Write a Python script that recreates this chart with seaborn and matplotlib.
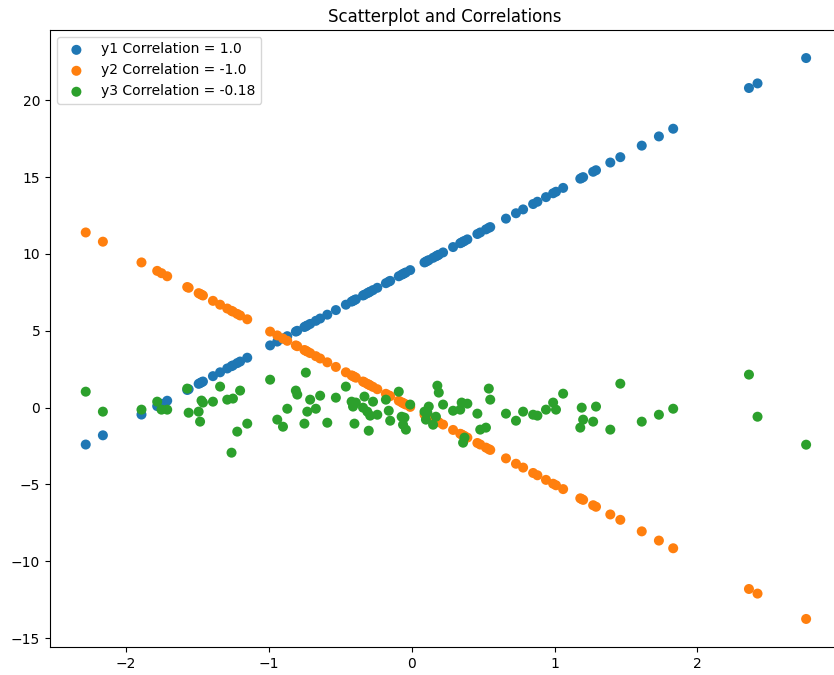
import numpy as np
import pandas as pd
import seaborn as sns
import matplotlib
matplotlib.use("Agg")
import matplotlib.pyplot as plt

# values
x = [-2.28, -2.16, -1.89, -1.78, -1.75, -1.71, -1.57, -1.56, -1.49, -1.48,
     -1.47, -1.46, -1.39, -1.34, -1.29, -1.26, -1.25, -1.22, -1.20, -1.15,
     -0.99, -0.94, -0.90, -0.87, -0.81, -0.80, -0.75, -0.74, -0.73, -0.71,
     -0.67, -0.64, -0.59, -0.53, -0.46, -0.42, -0.41, -0.40, -0.39, -0.34,
     -0.33, -0.31, -0.30, -0.29, -0.27, -0.24, -0.18, -0.16, -0.15, -0.09,
     -0.07, -0.06, -0.05, -0.04, -0.01, 0.09, 0.10, 0.11, 0.12, 0.15,
     0.17, 0.18, 0.19, 0.22, 0.29, 0.34, 0.35, 0.36, 0.37, 0.39,
     0.46, 0.48, 0.52, 0.54, 0.55, 0.66, 0.73, 0.78, 0.85, 0.88,
     0.94, 0.99, 1.01, 1.06, 1.18, 1.19, 1.20, 1.27, 1.29, 1.39,
     1.46, 1.61, 1.73, 1.83, 2.36, 2.42, 2.76]

y1 = [-2.40, -1.80, -0.45, 0.10, 0.25, 0.45, 1.15, 1.20, 1.55, 1.60,
      1.65, 1.70, 2.05, 2.30, 2.55, 2.70, 2.75, 2.90, 3.00, 3.25,
      4.05, 4.30, 4.50, 4.65, 4.95, 5.00, 5.25, 5.30, 5.35, 5.45,
      5.65, 5.80, 6.05, 6.35, 6.70, 6.90, 6.95, 7.00, 7.05, 7.30,
      7.35, 7.45, 7.50, 7.55, 7.65, 7.80, 8.10, 8.20, 8.25, 8.55,
      8.65, 8.70, 8.75, 8.80, 8.95, 9.45, 9.50, 9.55, 9.60, 9.75,
      9.85, 9.90, 9.95, 10.10, 10.45, 10.70, 10.75, 10.80, 10.85, 10.95,
      11.30, 11.40, 11.60, 11.70, 11.75, 12.30, 12.65, 12.90, 13.25, 13.40,
      13.70, 13.95, 14.05, 14.30, 14.90, 14.95, 15.00, 15.35, 15.45, 15.95,
      16.30, 17.05, 17.65, 18.15, 20.80, 21.10, 22.75]

y2 = [11.40, 10.80, 9.45, 8.90, 8.75, 8.55, 7.85, 7.80, 7.45, 7.40,
      7.35, 7.30, 6.95, 6.70, 6.45, 6.30, 6.25, 6.10, 6.00, 5.75,
      4.95, 4.70, 4.50, 4.35, 4.05, 4.00, 3.75, 3.70, 3.65, 3.55,
      3.35, 3.20, 2.95, 2.65, 2.30, 2.10, 2.05, 2.00, 1.95, 1.70,
      1.65, 1.55, 1.50, 1.45, 1.35, 1.20, 0.90, 0.80, 0.75, 0.45,
      0.35, 0.30, 0.25, 0.20, 0.05, -0.45, -0.50, -0.55, -0.60, -0.75,
      -0.85, -0.90, -0.95, -1.10, -1.45, -1.70, -1.75, -1.80, -1.85, -1.95,
      -2.30, -2.40, -2.60, -2.70, -2.75, -3.30, -3.65, -3.90, -4.25, -4.40,
      -4.70, -4.95, -5.05, -5.30, -5.90, -5.95, -6.00, -6.35, -6.45, -6.95,
      -7.30, -8.05, -8.65, -9.15, -11.80, -12.10, -13.75]

y3 = [1.04, -0.26, -0.13, 0.39, -0.13, -0.13, 1.24, -0.33, -0.26, -0.91,
      0.46, 0.33, 0.39, 1.37, 0.52, -2.93, 0.59, -1.56, 1.11, -1.04,
      1.82, -0.78, -1.24, -0.07, 1.11, 0.85, -1.04, 2.28, -0.26, 0.52,
      -0.07, 0.78, -0.98, 0.65, 1.37, 0.39, 0.07, -1.04, 0.33, 0.00,
      0.72, -0.26, -1.50, -0.52, 0.39, -0.46, 0.52, -0.20, -0.85, 1.04,
      -0.59, -1.11, -0.65, -1.43, 0.20, -0.26, -0.78, -0.33, 0.07, -1.11,
      -0.59, 1.43, 0.98, 0.20, -0.20, -0.13, 0.33, -2.28, -1.95, 0.26,
      -0.39, -1.43, -1.30, 1.24, 0.52, -0.39, -0.85, -0.26, -0.46, -0.52,
      -0.13, 0.33, -0.13, 0.91, -1.30, 0.00, -0.78, -0.91, 0.07, -1.43,
      1.56, -0.91, -0.46, -0.07, 2.15, -0.59, -2.41]

labels = ["y1 Correlation = 1.0", "y2 Correlation = -1.0", "y3 Correlation = -0.18"]

df = pd.DataFrame({"x": x, "y1": y1, "y2": y2, "y3": y3})

fig = plt.figure(figsize=(8.34, 6.75), dpi=100)
# right spine falls just past the picture's edge, as in the reference
ax = fig.add_axes([50 / 834, 1 - 647 / 675, 789 / 834, 617 / 675])

for i, col in enumerate(["y1", "y2", "y3"]):
    sns.scatterplot(data=df, x="x", y=col, ax=ax, color=f"C{i}", s=52,
                    edgecolor="none", linewidth=0, label=labels[i])

ax.set_xlim(-2.53, 2.99)
ax.set_xlabel("")
ax.set_ylabel("")
ax.set_title("Scatterplot and Correlations")
ax.legend(loc="upper left")

fig.savefig("out.png", dpi=100)
